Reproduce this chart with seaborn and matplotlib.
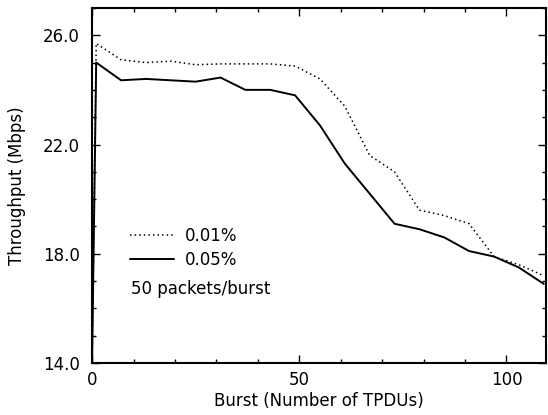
import numpy as np
import pandas as pd
import matplotlib
matplotlib.use("Agg")
import matplotlib.pyplot as plt
import seaborn as sns
from matplotlib.ticker import MultipleLocator

# burst sizes (TPDUs) and throughput
burst = [0, 1, 7, 13, 19, 25, 31, 37, 43, 49, 55, 61, 67, 73, 79, 85, 91, 97, 103, 109]
thr_001 = [14.0, 25.7, 25.1, 25.0, 25.05, 24.92, 24.95, 24.95, 24.95, 24.87,
           24.4, 23.4, 21.6, 21.0, 19.6, 19.4, 19.1, 17.9, 17.6, 17.2]
thr_005 = [14.0, 25.0, 24.35, 24.4, 24.35, 24.3, 24.45, 24.0, 24.0, 23.8,
           22.7, 21.3, 20.2, 19.1, 18.9, 18.6, 18.1, 17.9, 17.5, 16.9]
labels = ["0.01%", "0.05%"]

sns.set_theme(style="ticks")
plt.rcParams['font.family'] = ['DejaVu Sans']
plt.rcParams['text.color'] = 'black'
plt.rcParams['axes.labelcolor'] = 'black'

df = pd.DataFrame({
    "burst": burst * 2,
    "throughput": thr_001 + thr_005,
    "loss": [labels[0]] * len(burst) + [labels[1]] * len(burst),
})

fig = plt.figure(figsize=(5.48, 4.15), dpi=100)
ax = fig.add_axes([0.168, 0.125, 0.828, 0.856])

sns.lineplot(data=df[df["loss"] == labels[0]], x="burst", y="throughput",
             color="black", linewidth=1.1, linestyle=(0, (1, 2)),
             label=labels[0], ax=ax)
sns.lineplot(data=df[df["loss"] == labels[1]], x="burst", y="throughput",
             color="black", linewidth=1.4, label=labels[1], ax=ax)

ax.set_xlim(0, 109.5)
ax.set_ylim(14, 27)
ax.xaxis.set_major_locator(MultipleLocator(50))
ax.xaxis.set_minor_locator(MultipleLocator(10))
ax.yaxis.set_minor_locator(MultipleLocator(1))
ax.set_yticks([14, 18, 22, 26])
ax.set_yticklabels(["14.0", "18.0", "22.0", "26.0"])
ax.tick_params(which="both", direction="in", top=True, right=True,
               colors="black", labelsize=12)
ax.tick_params(which="major", length=6, width=1)
ax.tick_params(which="minor", length=3, width=1)
ax.tick_params(axis="x", pad=6)
ax.tick_params(axis="y", pad=9)
for s in ax.spines.values():
    s.set_linewidth(1.5)
    s.set_color("black")

ax.set_xlabel("Burst (Number of TPDUs)", fontsize=12, labelpad=2)
ax.set_ylabel("Throughput (Mbps)", fontsize=12, labelpad=12)

ax.legend(loc="center left", bbox_to_anchor=(0.084, 0.325), frameon=False,
          fontsize=12, handlelength=2.65, handletextpad=0.65,
          labelspacing=0.35, borderpad=0, borderaxespad=0)
ax.text(0.086, 0.21, "50 packets/burst", transform=ax.transAxes,
        fontsize=12, va="center")

fig.savefig("out.png", dpi=100)
